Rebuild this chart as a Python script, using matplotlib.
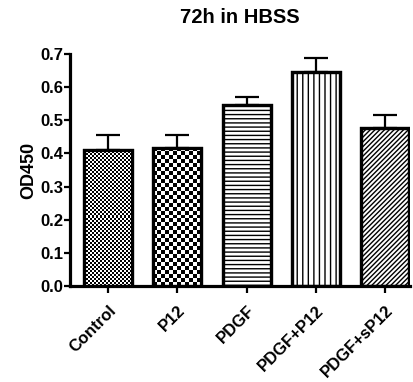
#!/usr/bin/env python
"""
Bar chart of OD450 after 72h in HBSS.
"""

# Third party modules.
import numpy as np
import matplotlib
matplotlib.use("Agg")
import matplotlib.pyplot as plt

# Globals and constants variables.
groups = ["Control", "P12", "PDGF", "PDGF+P12", "PDGF+sP12"]
od450 = [0.411, 0.417, 0.545, 0.644, 0.476]
sem = [0.045, 0.037, 0.025, 0.044, 0.040]
yticks = [0.0, 0.1, 0.2, 0.3, 0.4, 0.5, 0.6, 0.7]


def checker(ax, bar, ncols):
    x0, y0 = bar.get_x(), bar.get_y()
    w, h = bar.get_width(), bar.get_height()
    # square cells in pixels
    px = ax.transData.transform([[x0, y0], [x0 + w, y0 + h]])
    cell = (px[1, 0] - px[0, 0]) / ncols
    nrows = max(1, int(round((px[1, 1] - px[0, 1]) / cell)))
    grid = (np.add.outer(np.arange(nrows), np.arange(ncols)) % 2).astype(float)
    im = ax.imshow(grid, cmap="gray", extent=(x0, x0 + w, y0, y0 + h),
                   origin="lower", aspect="auto", interpolation="nearest",
                   zorder=2.5)
    im.set_clip_path(bar)


def run():
    plt.rcParams["font.family"] = ["Liberation Sans", "DejaVu Sans"]
    plt.rcParams["font.weight"] = "bold"
    plt.rcParams["hatch.linewidth"] = 1.0
    plt.rcParams["hatch.color"] = "#555555"

    fig = plt.figure(figsize=(4.14, 3.82), dpi=100)
    ax = fig.add_axes([0.169, 0.251, 0.822, 0.608])

    x = np.arange(len(groups))
    xlim = (-0.55, 4.36)
    ax.set_xlim(*xlim)
    ax.set_ylim(0, 0.7)

    hatches = [None, None, "----", "|||", "///////"]
    bars = ax.bar(x, od450, width=0.69, color="white", edgecolor="black",
                  linewidth=2.3, zorder=2)
    for b, h in zip(bars, hatches):
        if h:
            b.set_hatch(h)
    fig.canvas.draw()
    checker(ax, bars[0], 24)
    checker(ax, bars[1], 12)
    ax.set_xlim(*xlim)
    ax.set_ylim(0, 0.7)
    ax.set_aspect("auto")
    # redraw outlines on top of the checker images
    ax.bar(x, od450, width=0.69, fill=False, edgecolor="black",
           linewidth=2.3, zorder=3)

    ax.errorbar(x, od450, yerr=[np.zeros(len(sem)), sem], fmt="none",
                ecolor="black", elinewidth=1.6, capsize=8.5, capthick=1.6,
                zorder=1)

    ax.spines["top"].set_visible(False)
    ax.spines["right"].set_visible(False)
    ax.spines["left"].set_linewidth(2.3)
    ax.spines["bottom"].set_linewidth(2.3)

    ax.set_yticks(yticks)
    ax.set_yticklabels(["%.1f" % v for v in yticks], fontsize=12,
                       fontweight="bold")
    ax.set_xticks(x)
    ax.set_xticklabels(groups, rotation=45, ha="right", rotation_mode="anchor",
                       fontsize=12, fontweight="bold")
    ax.tick_params(axis="both", direction="out", length=4, width=1.6, pad=1)
    ax.tick_params(axis="x", length=5, pad=7)

    ax.set_ylabel("OD450", fontsize=13, fontweight="bold", labelpad=2)
    ax.set_title("72h in HBSS", fontsize=14.5, fontweight="bold", pad=22)

    fig.savefig("out.png", dpi=100)


if __name__ == '__main__':
    run()
